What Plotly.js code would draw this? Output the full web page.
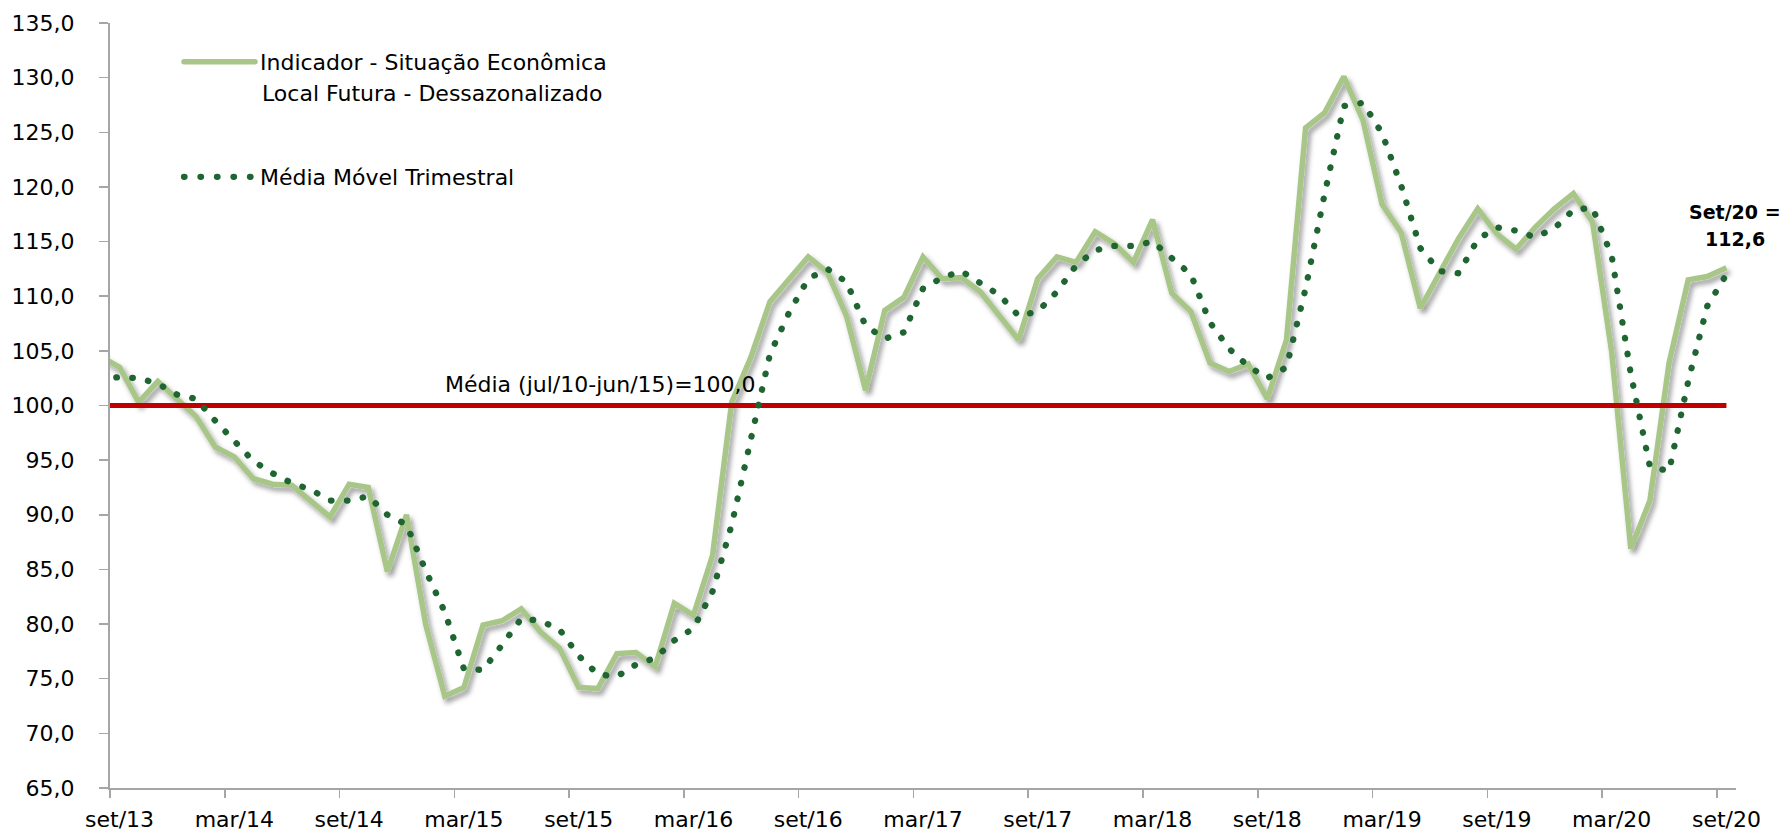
<!DOCTYPE html>
<html>
<head>
<meta charset="utf-8">
<script src="https://cdn.plot.ly/plotly-3.0.1.min.js"></script>
<style>
  html, body { margin: 0; padding: 0; background: #ffffff; }
  #chart { width: 1788px; height: 833px; }
</style>
</head>
<body>
<svg width="0" height="0" style="position:absolute">
  <defs>
    <filter id="lineShadow" x="-3%" y="-10%" width="106%" height="125%">
      <feDropShadow dx="3" dy="4" stdDeviation="2.5" flood-color="#000000" flood-opacity="0.38"/>
    </filter>
  </defs>
</svg>
<div id="chart"></div>
<script>
// x-axis labels (one every six months, first one = set/13)
const tickLabels = ['set/13','mar/14','set/14','mar/15','set/15','mar/16','set/16','mar/17',
                    'set/17','mar/18','set/18','mar/19','set/19','mar/20','set/20'];

// Monthly values from ago/13 (partly hidden behind the axis) to set/20
const indicador = [
  104.5,                                                                       // ago/13
  103.5, 100.3, 102.2, 100.6,  99.0,  96.2,  95.3,  93.3,  92.8,  92.7,  91.3,  89.8, // set/13 - ago/14
   92.8,  92.5,  84.8,  90.0,  80.0,  73.4,  74.2,  79.9,  80.3,  81.4,  79.3,  77.8, // set/14 - ago/15
   74.2,  74.1,  77.3,  77.4,  76.1,  81.9,  80.8,  86.3, 100.3, 104.4, 109.5, 111.6, // set/15 - ago/16
  113.6, 112.2, 108.2, 101.4, 108.7, 109.9, 113.6, 111.6, 111.7, 110.4, 108.1, 106.0, // set/16 - ago/17
  111.6, 113.6, 113.1, 115.9, 114.8, 113.1, 117.0, 110.3, 108.6, 103.9, 103.1, 103.8, // set/17 - ago/18
  100.6, 106.0, 125.4, 126.8, 130.1, 126.1, 118.4, 115.8, 108.9, 112.2, 115.3, 118.0, // set/18 - ago/19
  115.7, 114.3, 116.3, 118.0, 119.4, 116.8, 104.9,  86.9,  91.3, 103.9, 111.5, 111.8, // set/19 - ago/20
  112.6                                                                        // set/20
];

const mediaMovel = [
  102.4,                                                                       // ago/13
  102.6, 102.5, 102.0, 101.0, 100.6,  98.6,  96.8,  94.9,  93.8,  92.9,  92.3,  91.3, // set/13 - ago/14
   91.3,  91.7,  90.0,  89.1,  84.9,  81.1,  75.9,  75.8,  78.1,  80.5,  80.3,  79.5, // set/14 - ago/15
   77.1,  75.4,  75.2,  76.3,  76.9,  78.5,  79.6,  83.0,  89.1,  97.0, 104.7, 108.5, // set/15 - ago/16
  111.6, 112.5, 111.3, 107.3, 106.1, 106.7, 110.7, 111.7, 112.3, 111.2, 110.1, 108.2, // set/16 - ago/17
  108.6, 110.4, 112.8, 114.2, 114.6, 114.6, 115.0, 113.5, 112.0, 107.6, 105.2, 103.6, // set/17 - ago/18
  102.5, 103.5, 110.7, 119.4, 127.4, 127.7, 124.9, 120.1, 114.4, 112.3, 112.1, 115.2, // set/18 - ago/19
  116.3, 116.0, 115.4, 116.2, 117.9, 118.1, 113.7, 102.9,  94.4,  94.0, 102.2, 109.1, // set/19 - ago/20
  112.0                                                                        // set/20
];

const mediaHistorica = 100.0;   // Média (jul/10-jun/15)
const ultimoValor = 112.6;      // Set/20

const fmt = v => v.toFixed(1).replace('.', ',');

// month position: 0 = set/13 (ago/13 sits at -1, outside the visible range)
const monthPos = indicador.map((_, k) => k - 1);
const labelPos = tickLabels.map((_, k) => 6 * k);
const boundaryPos = tickLabels.map((_, k) => 6 * k - 0.5);

const axisGray = '#A6A6A6';
const FONT = 'DejaVu Sans, Verdana, sans-serif';

const traces = [
  {
    x: monthPos, y: indicador, type: 'scatter', mode: 'lines',
    name: 'Indicador - Situação Econômica',
    line: { color: '#A9C689', width: 5.5 },
    legend: 'legend', hoverinfo: 'skip'
  },
  {
    x: monthPos, y: monthPos.map(() => mediaHistorica), type: 'scatter', mode: 'lines',
    line: { color: '#C00000', width: 4.8 },
    showlegend: false, hoverinfo: 'skip'
  },
  {
    x: monthPos, y: mediaMovel, type: 'scatter', mode: 'lines',
    name: 'Média Móvel Trimestral',
    line: { color: '#1E6532', width: 6.3, dash: '1px,15px' },
    legend: 'legend2', hoverinfo: 'skip'
  },
  { x: [], y: [], xaxis: 'x2', type: 'scatter', mode: 'lines', showlegend: false, hoverinfo: 'skip' }
];

const layout = {
  width: 1788, height: 833,
  margin: { l: 110, r: 52, t: 23, b: 45, pad: 0, autoexpand: false },
  paper_bgcolor: '#ffffff', plot_bgcolor: '#ffffff',
  separators: ',.',
  font: { family: FONT, size: 22, color: '#000000' },
  showlegend: true,
  xaxis: {
    range: [-0.5, 84.5], tickmode: 'array', tickvals: labelPos, ticktext: tickLabels,
    ticks: '', showgrid: false, zeroline: false, tickangle: 0, automargin: false,
    showline: true, linecolor: axisGray, linewidth: 2,
    tickfont: { family: FONT, size: 22, color: '#000' },
    ticklabelstandoff: 11
  },
  xaxis2: {
    overlaying: 'x', anchor: 'y', side: 'bottom', automargin: false,
    range: [-0.5, 84.5], tickmode: 'array', tickvals: boundaryPos,
    ticks: 'outside', ticklen: 9, tickwidth: 1.5, tickcolor: axisGray,
    showticklabels: false, showgrid: false, zeroline: false, showline: false
  },
  yaxis: {
    range: [65, 135], tick0: 65, dtick: 5, tickformat: '.1f', automargin: false,
    ticks: 'outside', ticklen: 9, tickwidth: 1.5, tickcolor: axisGray,
    showline: true, linecolor: axisGray, linewidth: 2,
    showgrid: false, zeroline: false,
    tickfont: { family: FONT, size: 22, color: '#000' },
    ticklabelstandoff: 20
  },
  legend: {
    xref: 'container', yref: 'container',
    x: 179 / 1788, y: 1 - 62 / 833, xanchor: 'left', yanchor: 'middle',
    bgcolor: 'rgba(0,0,0,0)', borderwidth: 0,
    font: { family: FONT, size: 22, color: '#000' },
    itemwidth: 71
  },
  legend2: {
    xref: 'container', yref: 'container',
    x: 179 / 1788, y: 1 - 177 / 833, xanchor: 'left', yanchor: 'middle',
    bgcolor: 'rgba(0,0,0,0)', borderwidth: 0,
    font: { family: FONT, size: 22, color: '#000' },
    itemwidth: 71
  },
  annotations: [
    {
      xref: 'paper', yref: 'y', x: (600 - 110) / 1626, y: 101.95,
      xanchor: 'center', yanchor: 'middle', showarrow: false,
      text: 'Média (jul/10-jun/15)=' + fmt(mediaHistorica),
      font: { family: FONT, size: 22, color: '#000' }
    },
    {
      xref: 'paper', yref: 'paper', x: (260 - 110) / 1626, y: (787.7 - 93.5) / 764.4,
      xanchor: 'left', yanchor: 'middle', showarrow: false,
      text: 'Local Futura - Dessazonalizado',
      font: { family: FONT, size: 22, color: '#000' }
    },
    {
      xref: 'paper', yref: 'paper', x: (1735 - 110) / 1626, y: (787.7 - 211.7) / 764.4,
      xanchor: 'center', yanchor: 'middle', showarrow: false,
      text: '<b>Set/20 =</b>',
      font: { family: FONT, size: 19, color: '#000' }
    },
    {
      xref: 'paper', yref: 'paper', x: (1735 - 110) / 1626, y: (787.7 - 239.3) / 764.4,
      xanchor: 'center', yanchor: 'middle', showarrow: false,
      text: '<b>' + fmt(ultimoValor) + '</b>',
      font: { family: FONT, size: 19, color: '#000' }
    }
  ],
  shapes: [
    {
      type: 'rect', xref: 'paper', yref: 'paper',
      x0: (131 - 110) / 1626, x1: (136 - 110) / 1626,
      y0: (787.7 + 16) / 764.4, y1: (787.7 + 23.3) / 764.4,
      fillcolor: '#4E7A7C', line: { width: 0 }, layer: 'above'
    }
  ]
};

Plotly.newPlot('chart', traces, layout, { staticPlot: true, displayModeBar: false }).then(() => {
  const traceGroups = document.querySelectorAll('.cartesianlayer .subplot.xy .scatterlayer .trace');
  if (traceGroups[0]) {
    const p = traceGroups[0].querySelector('path.js-line');
    if (p) p.setAttribute('filter', 'url(#lineShadow)');
  }
  if (traceGroups[2]) {
    const p = traceGroups[2].querySelector('path.js-line');
    if (p) { p.style.strokeLinecap = 'round'; p.style.strokeDasharray = '0.5px,15.5px'; }
  }
  document.querySelectorAll('.legendlines path').forEach(p => {
    p.style.strokeLinecap = 'round';
    const da = p.style.strokeDasharray;
    if (da && da !== 'none' && da !== '') p.style.strokeDasharray = '0.5px,16px';
  });
});
</script>
</body>
</html>
